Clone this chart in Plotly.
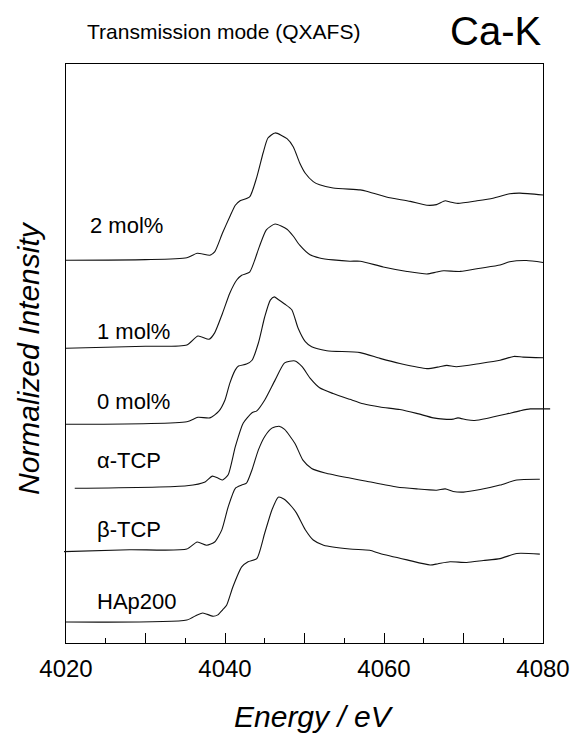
import plotly.graph_objects as go

# ---------------- data ----------------
labels = ["2 mol%", "1 mol%", "0 mol%", "α-TCP", "β-TCP", "HAp200"]
offsets = [6.0, 4.656, 3.4375, 2.4375, 1.4375, 0.359]   # vertical stacking offsets

E_2mol = [4020, 4030, 4035.2, 4036.5, 4038.1, 4038.7, 4039.7, 4040.6, 4041.3, 4041.9,
          4043.1, 4044.0, 4044.8, 4045.4, 4046.3, 4047.8, 4048.6, 4049.4, 4050.1, 4051.1,
          4051.9, 4053.6, 4057.0, 4057.8, 4060.3, 4063.3, 4065.4, 4066.6, 4067.7, 4068.3,
          4069.3, 4071.7, 4073.7, 4075.8, 4077.1, 4080]
I_2mol = [-0.02, -0.01, 0.02, 0.09, 0.06, 0.11, 0.41, 0.66, 0.84, 0.91,
          0.97, 1.28, 1.66, 1.89, 1.97, 1.88, 1.75, 1.50, 1.34, 1.21,
          1.16, 1.11, 1.08, 1.06, 0.97, 0.90, 0.84, 0.85, 0.91, 0.89,
          0.87, 0.91, 0.95, 1.02, 1.03, 1.00]

E_1mol = [4020, 4030, 4035.2, 4036.6, 4038.0, 4038.7, 4039.7, 4040.6, 4041.5, 4042.1,
          4043.1, 4044.3, 4045.2, 4046.3, 4047.8, 4048.6, 4049.4, 4050.7, 4051.9, 4053.6,
          4055.7, 4057.0, 4059.9, 4062.9, 4065.4, 4066.6, 4067.5, 4069.6, 4072.1, 4074.6,
          4075.8, 4077.9, 4080]
I_1mol = [-0.05, -0.02, 0.00, 0.14, 0.09, 0.19, 0.50, 0.81, 1.02, 1.09,
          1.14, 1.53, 1.80, 1.89, 1.81, 1.70, 1.56, 1.41, 1.36, 1.33,
          1.31, 1.31, 1.22, 1.15, 1.11, 1.14, 1.16, 1.15, 1.20, 1.25,
          1.30, 1.32, 1.29]

E_0mol = [4020, 4035.2, 4036.6, 4038.1, 4039.2, 4040.0, 4040.6, 4041.3, 4041.7, 4042.7,
          4043.4, 4044.2, 4045.0, 4045.7, 4046.2, 4046.7, 4047.5, 4048.4, 4049.2, 4050.1,
          4050.9, 4052.8, 4057.0, 4059.5, 4062.0, 4065.4, 4067.0, 4067.9, 4069.1, 4072.1,
          4074.6, 4076.3, 4077.5, 4080]
I_0mol = [-0.02, 0.02, 0.09, 0.08, 0.18, 0.36, 0.62, 0.83, 0.89, 0.92,
          0.98, 1.25, 1.66, 1.92, 1.97, 1.93, 1.86, 1.77, 1.48, 1.27,
          1.19, 1.13, 1.10, 1.01, 0.93, 0.85, 0.88, 0.90, 0.88, 0.93,
          0.98, 1.04, 1.03, 1.02]

E_aTCP = [4021.1, 4035.2, 4037.5, 4038.4, 4039.1, 4039.7, 4040.4, 4041.3, 4042.3, 4043.4,
          4044.0, 4045.0, 4046.3, 4047.5, 4048.8, 4049.7, 4050.7, 4051.9, 4053.6, 4055.7,
          4057.4, 4059.5, 4062.0, 4064.1, 4066.2, 4067.5, 4068.7, 4069.3, 4070.4, 4071.4,
          4072.9, 4075.4, 4077.1, 4078.4, 4080.0, 4080.9]
I_aTCP = [-0.02, 0.02, 0.08, 0.17, 0.14, 0.11, 0.19, 0.63, 1.00, 1.16,
          1.19, 1.36, 1.67, 1.94, 1.97, 1.88, 1.70, 1.55, 1.46, 1.37,
          1.30, 1.25, 1.21, 1.15, 1.08, 1.06, 1.06, 1.08, 1.05, 1.04,
          1.07, 1.14, 1.19, 1.22, 1.22, 1.22]

E_bTCP = [4019.75, 4028.0, 4035.2, 4036.5, 4037.7, 4038.7, 4039.6, 4040.4, 4041.3, 4042.1,
          4042.7, 4043.4, 4044.2, 4045.0, 4045.9, 4046.8, 4047.5, 4048.8, 4049.8, 4050.9,
          4052.6, 4055.7, 4057.8, 4061.6, 4064.1, 4066.6, 4067.7, 4068.7, 4070.0, 4072.1,
          4074.6, 4076.7, 4079.6]
I_bTCP = [-0.01, 0.02, 0.03, 0.14, 0.09, 0.14, 0.33, 0.69, 0.98, 1.03,
          1.06, 1.27, 1.58, 1.79, 1.92, 1.95, 1.90, 1.68, 1.42, 1.29,
          1.22, 1.14, 1.09, 1.00, 0.97, 0.95, 0.97, 0.93, 0.92, 0.96,
          1.03, 1.11, 1.12]

E_HAp = [4020, 4035.2, 4036.5, 4037.2, 4038.5, 4039.1, 4039.7, 4040.2, 4041.0, 4042.1,
         4042.9, 4044.0, 4045.0, 4045.9, 4046.7, 4047.4, 4048.4, 4049.0, 4050.1, 4051.1,
         4052.4, 4055.7, 4058.2, 4059.5, 4062.9, 4065.8, 4066.8, 4068.3, 4070.4, 4072.5,
         4074.6, 4076.7, 4079.6]
I_HAp = [-0.03, 0.00, 0.08, 0.11, 0.06, 0.08, 0.16, 0.23, 0.52, 0.83,
         0.91, 0.96, 1.36, 1.72, 1.92, 1.89, 1.77, 1.67, 1.41, 1.25,
         1.17, 1.11, 1.09, 1.04, 0.94, 0.86, 0.88, 0.91, 0.90, 0.93,
         0.96, 1.04, 1.03]

spectra = [(E_2mol, I_2mol), (E_1mol, I_1mol), (E_0mol, I_0mol),
           (E_aTCP, I_aTCP), (E_bTCP, I_bTCP), (E_HAp, I_HAp)]

label_E = [4022.8, 4023.7, 4023.7, 4023.7, 4023.7, 4023.7]
label_y = [6.52, 4.875, 3.766, 2.844, 1.766, 0.641]

x_range = [4020, 4080]
y_range = [0, 9.047]
major_ticks = [4020, 4030, 4040, 4050, 4060, 4070, 4080]
major_text = ["4020", "", "4040", "", "4060", "", "4080"]
minor_ticks = [4025, 4035, 4045, 4055, 4065, 4075]

# ---------------- figure ----------------
W, H = 579, 734
ml, mr, mt, mb = 60, 28, 64, 91
pw = W - ml - mr
ph = H - mt - mb
d0 = 6 / pw
d1 = (pw - 8) / pw
span = x_range[1] - x_range[0]
scale = span / (d1 - d0)
x2_range = [x_range[0] - d0 * scale, x_range[1] + (1 - d1) * scale]

FONT = "Liberation Sans, Arial, Helvetica, sans-serif"

fig = go.Figure()
for (E, I), off, name in zip(spectra, offsets, labels):
    fig.add_trace(go.Scatter(
        x=E, y=[v + off for v in I], mode="lines", name=name,
        line=dict(color="#111111", width=1.1, shape="spline", smoothing=0.6),
        xaxis="x2", yaxis="y", showlegend=False, hoverinfo="skip"))

for name, ex, ey in zip(labels, label_E, label_y):
    fig.add_annotation(x=ex, y=ey, xref="x", yref="y", text=name, showarrow=False,
                       xanchor="left", yanchor="middle",
                       font=dict(family=FONT, size=22, color="black"))

fig.add_annotation(x=(85 - ml) / pw, y=(H - mb - 31) / ph, xref="paper", yref="paper",
                   text="Transmission mode (QXAFS)", showarrow=False,
                   xanchor="left", yanchor="middle",
                   font=dict(family=FONT, size=21, color="black"))
fig.add_annotation(x=(543 - ml) / pw, y=(H - mb - 31) / ph, xref="paper", yref="paper",
                   text="Ca-K", showarrow=False, xanchor="right", yanchor="middle",
                   font=dict(family=FONT, size=40, color="black"))
fig.add_annotation(x=(314 - ml) / pw, y=(H - mb - 716) / ph, xref="paper", yref="paper",
                   text="<i>Energy / eV</i>", showarrow=False, xanchor="center", yanchor="middle",
                   font=dict(family=FONT, size=30, color="black"))
fig.add_annotation(x=(28 - ml) / pw, y=(H - mb - 358) / ph, xref="paper", yref="paper",
                   text="<i>Normalized Intensity</i>", showarrow=False, textangle=-90,
                   xanchor="center", yanchor="middle",
                   font=dict(family=FONT, size=30, color="black"))

fig.update_layout(
    width=W, height=H,
    margin=dict(l=ml, r=mr, t=mt, b=mb, autoexpand=False),
    paper_bgcolor="white", plot_bgcolor="rgba(0,0,0,0)",
    xaxis=dict(domain=[d0, d1], range=x_range, showline=True, linecolor="black", linewidth=1.3,
               mirror=True, ticks="inside", tickmode="array", tickvals=major_ticks,
               ticktext=major_text, ticklen=10, tickwidth=1, tickcolor="black",
               minor=dict(tickmode="array", tickvals=minor_ticks, ticks="inside", ticklen=5,
                          tickwidth=1, tickcolor="black"),
               tickfont=dict(family=FONT, size=24, color="black"), ticklabelstandoff=4,
               showgrid=False, zeroline=False, automargin=False),
    xaxis2=dict(domain=[0, 1], range=x2_range, anchor="y", visible=False,
                showgrid=False, zeroline=False, automargin=False),
    yaxis=dict(range=y_range, showline=True, linecolor="black", linewidth=1.3, mirror=True,
               ticks="", showticklabels=False, showgrid=False, zeroline=False, anchor="x",
               automargin=False),
)

fig.write_html("out.html", config={"displayModeBar": False},
               post_script="document.body.style.margin='0px';"
                           "document.body.style.overflow='hidden';")
